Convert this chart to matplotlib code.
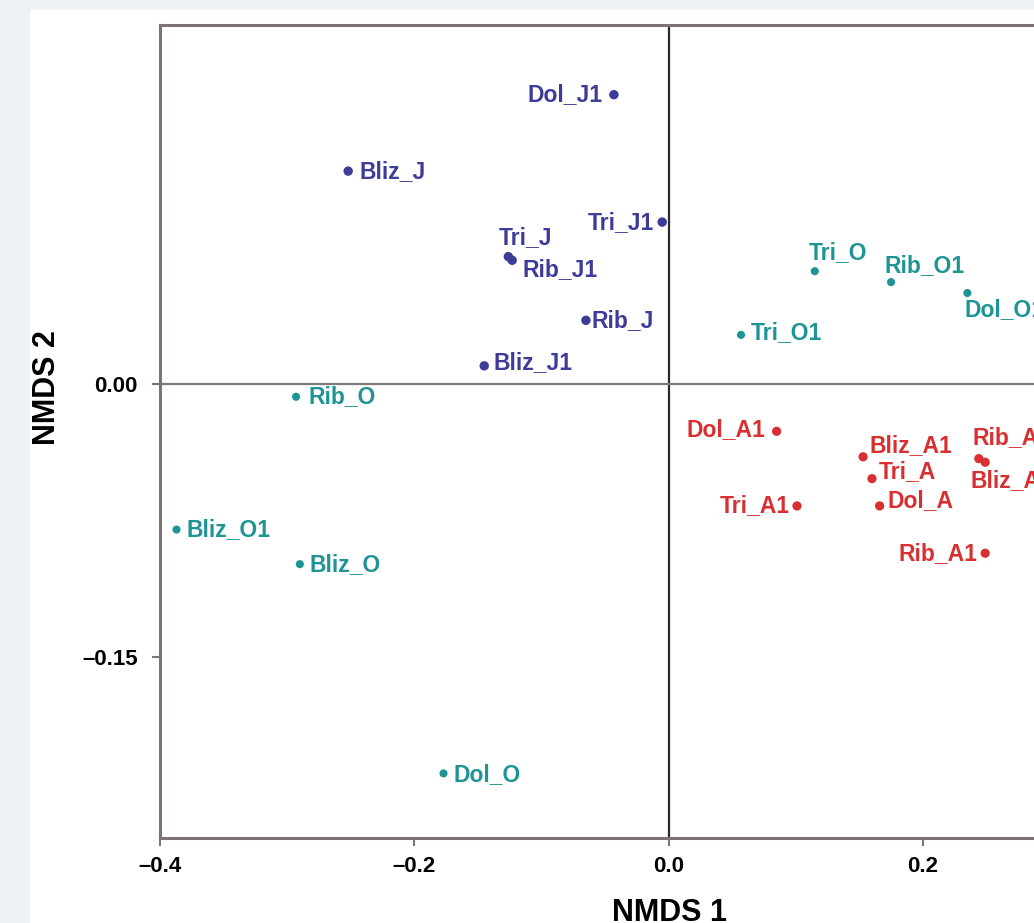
import matplotlib
matplotlib.use("Agg")
import matplotlib.pyplot as plt
from matplotlib.patches import Rectangle

# NMDS scores
labels_j = ["Dol_J1", "Bliz_J", "Tri_J1", "Tri_J", "Rib_J1", "Rib_J", "Bliz_J1"]
x_j = [-0.043, -0.252, -0.005, -0.126, -0.123, -0.065, -0.145]
y_j = [0.159, 0.117, 0.089, 0.070, 0.068, 0.035, 0.010]

labels_o = ["Tri_O", "Rib_O1", "Dol_O1", "Tri_O1", "Rib_O", "Bliz_O1", "Bliz_O", "Dol_O"]
x_o = [0.115, 0.175, 0.235, 0.057, -0.293, -0.387, -0.290, -0.177]
y_o = [0.062, 0.056, 0.050, 0.027, -0.007, -0.080, -0.099, -0.214]

labels_a = ["Dol_A1", "Bliz_A1", "Tri_A", "Dol_A", "Tri_A1", "Rib_A1", "Rib_A", "Bliz_A"]
x_a = [0.085, 0.153, 0.160, 0.166, 0.101, 0.249, 0.244, 0.249]
y_a = [-0.026, -0.040, -0.052, -0.067, -0.067, -0.093, -0.041, -0.043]

xticks = [-0.4, -0.2, 0.0, 0.2]
yticks = [-0.15, 0.00]
ytick_labels = ["\u20130.15", "0.00"]
xtick_labels = ["\u20130.4", "\u20130.2", "0.0", "0.2"]

# label offsets in pixels (dx, dy, ha)
offsets = {
    "Dol_J1": (-11, 0, "right"), "Bliz_J": (11, 0, "left"), "Tri_J1": (-8, 0, "right"),
    "Tri_J": (-10, 19, "left"), "Rib_J1": (10, -9, "left"), "Rib_J": (6, 0, "left"),
    "Bliz_J1": (9, 3, "left"),
    "Tri_O": (-6, 19, "left"), "Rib_O1": (-7, 17, "left"), "Dol_O1": (-3, -17, "left"),
    "Tri_O1": (10, 2, "left"), "Rib_O": (12, 0, "left"), "Bliz_O1": (10, 0, "left"),
    "Bliz_O": (10, 0, "left"), "Dol_O": (10, -1, "left"),
    "Dol_A1": (-11, 2, "right"), "Bliz_A1": (6, 11, "left"), "Tri_A": (7, 7, "left"),
    "Dol_A": (8, 5, "left"), "Tri_A1": (-7, 0, "right"), "Rib_A1": (-8, 0, "right"),
    "Rib_A": (-6, 21, "left"), "Bliz_A": (-15, -18, "left"),
}

blue = "#3d3c98"
teal = "#1e9494"
red = "#d83030"
dot_size = {blue: 46, teal: 34, red: 44}

plt.rcParams['font.family'] = ['Liberation Sans', 'DejaVu Sans']

W, H = 1034, 923
fig = plt.figure(figsize=(W / 100, H / 100), dpi=100)
fig.patch.set_facecolor("#eef1f5")
fig.patches.append(Rectangle((30 / W, 0), 1, 1 - 10 / H, transform=fig.transFigure,
                             facecolor="white", edgecolor="none", zorder=-1))

ax = fig.add_axes([160 / W, (H - 838) / H, 890 / W, (838 - 25) / H])
ax.set_xlim(-0.4, 0.3)
ax.set_ylim(-0.2495, 0.1973)

ax.axvline(0, color="#2a2a2a", lw=1.6, zorder=1)
ax.axhline(0, color="#7a7a7a", lw=1.6, zorder=1)

for lab, xs, ys, c in [(labels_j, x_j, y_j, blue), (labels_o, x_o, y_o, teal), (labels_a, x_a, y_a, red)]:
    ax.scatter(xs, ys, s=dot_size[c], color=c, zorder=3, edgecolors="none")
    for name, xv, yv in zip(lab, xs, ys):
        dx, dy, ha = offsets[name]
        ax.annotate(name, (xv, yv), xytext=(dx, dy), textcoords="offset pixels",
                    ha=ha, va="center", color=c, fontsize=16.5, fontweight="bold",
                    annotation_clip=False, zorder=4)

for s in ax.spines.values():
    s.set_color("#7d7373")
    s.set_linewidth(2.2)

ax.set_xticks(xticks)
ax.set_xticklabels(xtick_labels)
ax.set_yticks(yticks)
ax.set_yticklabels(ytick_labels)
ax.tick_params(axis="both", direction="out", length=6, width=1.5, color="#7d7373",
               labelsize=16)
ax.tick_params(axis="x", pad=7)
ax.tick_params(axis="y", pad=10)
for t in ax.get_xticklabels() + ax.get_yticklabels():
    t.set_fontweight("bold")

ax.set_xlabel("NMDS 1", fontsize=22, fontweight="bold")
ax.set_ylabel("NMDS 2", fontsize=22, fontweight="bold")
ax.xaxis.set_label_coords(509 / 890, -0.074)
ax.yaxis.set_label_coords(-0.110, 0.5535)

fig.savefig("out.png", dpi=100)
